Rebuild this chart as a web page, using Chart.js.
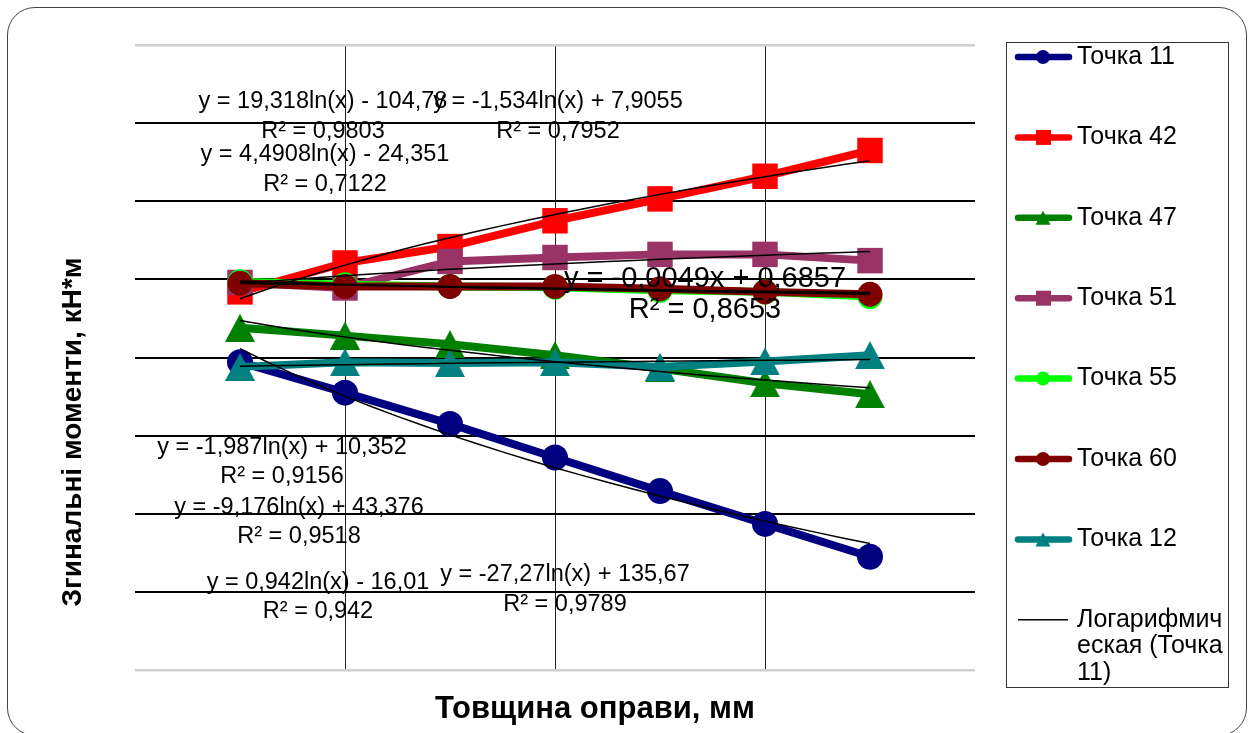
<!DOCTYPE html>
<html>
<head>
<meta charset="utf-8">
<script src="https://cdn.jsdelivr.net/npm/chart.js@4.4.1/dist/chart.umd.min.js"></script>
<style>
  html, body { margin: 0; padding: 0; background: #fff; }
  #wrap { position: relative; width: 1254px; height: 733px; overflow: hidden; }
  #frame { position: absolute; left: 7px; top: 7px; width: 1238px; height: 727px;
           border: 1.5px solid #444; border-radius: 28px; }
  #chart { position: absolute; left: 0; top: 0; }
</style>
</head>
<body>
<div id="wrap">
  <div id="frame"></div>
  <canvas id="chart" width="1254" height="733"></canvas>
</div>
<script>
// ── data: bending moments per point vs frame thickness ──
const xPos = [4, 5, 6, 7, 8, 9, 10];
const seriesNames = ['Точка 11', 'Точка 42', 'Точка 47', 'Точка 51', 'Точка 55', 'Точка 60', 'Точка 12'];
const p11 = [39.4, 35.5, 31.5, 27.2, 22.9, 18.7, 14.5];
const p42 = [48.4, 52.1, 54.2, 57.5, 60.3, 63.2, 66.5];
const p47 = [43.8, 42.8, 41.7, 40.3, 38.6, 36.7, 35.3];
const p51 = [49.6, 48.9, 52.3, 52.8, 53.2, 53.2, 52.4];
const p55 = [49.7, 49.3, 49.1, 49.0, 48.6, 48.4, 47.8];
const p60 = [49.5, 49.1, 49.1, 49.1, 48.8, 48.4, 48.1];
const p12 = [38.8, 39.4, 39.3, 39.4, 38.8, 39.5, 40.3];
const yMin = 0, yMax = 80, yStep = 10;
const xMin = 3, xMax = 11, xStep = 2;

const trendLegend = ['Логарифмич', 'еская (Точка', '11)'];
const eqText = [
  ['y = 19,318ln(x) - 104,78', 'R² = 0,9803'],
  ['y = -1,534ln(x) + 7,9055', 'R² = 0,7952'],
  ['y = 4,4908ln(x) - 24,351', 'R² = 0,7122'],
  ['y = -0,0049x + 0,6857', 'R² = 0,8653'],
  ['y = -1,987ln(x) + 10,352', 'R² = 0,9156'],
  ['y = -9,176ln(x) + 43,376', 'R² = 0,9518'],
  ['y = 0,942ln(x) - 16,01', 'R² = 0,942'],
  ['y = -27,27ln(x) + 135,67', 'R² = 0,9789']
];
const xTitle = 'Товщина оправи, мм';
const yTitle = 'Згинальні моменти, кН*м';

const FONT = "'Liberation Sans', Arial, sans-serif";

// ── markers ──
function triMarker(color, w, h) {
  const c = document.createElement('canvas');
  c.width = w; c.height = h;
  const g = c.getContext('2d');
  g.fillStyle = color;
  g.beginPath();
  g.moveTo(w / 2, 0); g.lineTo(w, h); g.lineTo(0, h);
  g.closePath(); g.fill();
  return c;
}

const styles = [
  { color: '#000080', marker: 'circle', r: 13 },
  { color: '#ff0000', marker: 'rect', r: 18 },
  { color: '#008000', marker: 'tri', r: 0 },
  { color: '#993366', marker: 'rect', r: 18 },
  { color: '#00ff00', marker: 'circle', r: 12.5 },
  { color: '#800000', marker: 'circle', r: 12.5 },
  { color: '#008080', marker: 'tri', r: 0 }
];
const allSeries = [p11, p42, p47, p51, p55, p60, p12];

// ── trendlines (least squares on the series) ──
function logFit(ys) {
  const L = xPos.map(Math.log);
  const n = L.length;
  const mL = L.reduce((a, b) => a + b, 0) / n;
  const mY = ys.reduce((a, b) => a + b, 0) / n;
  let sxy = 0, sxx = 0;
  for (let i = 0; i < n; i++) { sxy += (L[i] - mL) * (ys[i] - mY); sxx += (L[i] - mL) ** 2; }
  const a = sxy / sxx;
  return x => a * Math.log(x) + (mY - a * mL);
}
function linFit(ys) {
  const n = xPos.length;
  const mX = xPos.reduce((a, b) => a + b, 0) / n;
  const mY = ys.reduce((a, b) => a + b, 0) / n;
  let sxy = 0, sxx = 0;
  for (let i = 0; i < n; i++) { sxy += (xPos[i] - mX) * (ys[i] - mY); sxx += (xPos[i] - mX) ** 2; }
  const a = sxy / sxx;
  return x => a * x + (mY - a * mX);
}
function curve(fn) {
  const pts = [];
  for (let x = xPos[0]; x <= xPos[xPos.length - 1] + 1e-9; x += 0.25) pts.push({ x, y: fn(x) });
  return pts;
}

const datasets = [];
allSeries.forEach((ys, i) => {
  const s = styles[i];
  const tri = s.marker === 'tri' ? triMarker(s.color, 30, 28) : null;
  datasets.push({
    label: seriesNames[i],
    data: xPos.map((x, k) => ({ x, y: ys[k] })),
    borderColor: s.color,
    backgroundColor: s.color,
    borderWidth: 8,
    borderJoinStyle: 'round',
    borderCapStyle: 'round',
    pointStyle: tri || s.marker,
    pointRadius: tri ? 14 : s.r,
    pointBorderWidth: 0,
    tension: 0,
    order: 9 - i
  });
});
allSeries.forEach((ys, i) => {
  datasets.push({
    label: 'Логарифмическая (' + seriesNames[i] + ')',
    trend: true,
    data: curve(logFit(ys)),
    borderColor: '#000',
    borderWidth: 1.5,
    pointRadius: 0,
    tension: 0,
    order: 1
  });
});
datasets.push({
  label: 'Линейная (Точка 60)',
  trend: true,
  data: curve(linFit(p60)),
  borderColor: '#000',
  borderWidth: 1.5,
  pointRadius: 0,
  tension: 0,
  order: 1
});

// ── labels, titles and legend ──
const eqPlacement = [
  { x: 323, y: 102, size: 23.5, gap: 29.5 },
  { x: 558, y: 102, size: 23.5, gap: 29.5 },
  { x: 325, y: 155, size: 23.5, gap: 29.5 },
  { x: 705, y: 279, size: 29, gap: 31 },
  { x: 282, y: 448, size: 23.5, gap: 28.5 },
  { x: 299, y: 508, size: 23.5, gap: 28.5 },
  { x: 318, y: 583, size: 23.5, gap: 28.5 },
  { x: 565, y: 575, size: 23.5, gap: 29.5 }
];

const overlay = {
  id: 'overlay',
  afterDraw(chart) {
    const ctx = chart.ctx;
    ctx.save();
    ctx.fillStyle = '#000';
    ctx.textAlign = 'center';
    ctx.textBaseline = 'middle';

    eqText.forEach((lines, i) => {
      const p = eqPlacement[i];
      ctx.font = p.size + 'px ' + FONT;
      lines.forEach((t, k) => ctx.fillText(t, p.x, p.y + k * p.gap));
    });

    ctx.font = 'bold 31px ' + FONT;
    ctx.fillText(xTitle, 595, 709);
    ctx.save();
    ctx.translate(73, 432);
    ctx.rotate(-Math.PI / 2);
    ctx.font = 'bold 28px ' + FONT;
    ctx.fillText(yTitle, 0, 0);
    ctx.restore();

    // legend box
    ctx.strokeStyle = '#333';
    ctx.lineWidth = 1;
    ctx.strokeRect(1006.5, 42.5, 222, 645);
    ctx.textAlign = 'left';
    ctx.font = '25px ' + FONT;
    const series = chart.data.datasets.filter(d => !d.trend);
    series.forEach((d, i) => {
      const y = 57 + i * 80.4;
      ctx.strokeStyle = d.borderColor;
      ctx.lineWidth = 6.5;
      ctx.lineCap = 'round';
      ctx.beginPath(); ctx.moveTo(1018, y); ctx.lineTo(1069, y); ctx.stroke();
      ctx.fillStyle = d.borderColor;
      const st = styles[i].marker;
      if (st === 'circle') {
        ctx.beginPath(); ctx.arc(1043, y, 7, 0, Math.PI * 2); ctx.fill();
      } else if (st === 'rect') {
        ctx.fillRect(1036, y - 7.5, 15, 15);
      } else {
        ctx.beginPath(); ctx.moveTo(1043, y - 7); ctx.lineTo(1050.5, y + 7); ctx.lineTo(1035.5, y + 7);
        ctx.closePath(); ctx.fill();
      }
      ctx.fillStyle = '#000';
      ctx.fillText(d.label, 1077, y);
    });
    const ty = 57 + series.length * 80.4;
    ctx.strokeStyle = '#000';
    ctx.lineWidth = 1.5;
    ctx.lineCap = 'butt';
    ctx.beginPath(); ctx.moveTo(1018, ty); ctx.lineTo(1068, ty); ctx.stroke();
    trendLegend.forEach((t, k) => ctx.fillText(t, 1077, ty + k * 26.5));
    ctx.restore();
  }
};

new Chart(document.getElementById('chart'), {
  type: 'line',
  data: { datasets },
  options: {
    responsive: false,
    animation: false,
    layout: { padding: { left: 135, right: 279, top: 45, bottom: 63 } },
    plugins: { legend: { display: false }, tooltip: { enabled: false } },
    scales: {
      x: {
        type: 'linear', min: xMin, max: xMax,
        ticks: { display: false, stepSize: xStep },
        border: { display: false },
        grid: {
          drawTicks: false,
          color: c => (c.tick.value === xMin || c.tick.value === xMax) ? 'rgba(0,0,0,0)' : '#222',
          lineWidth: 1
        }
      },
      y: {
        min: yMin, max: yMax,
        ticks: { display: false, stepSize: yStep },
        border: { display: false },
        grid: {
          drawTicks: false,
          color: c => (c.tick.value === yMin || c.tick.value === yMax) ? '#cfcfcf' : '#000',
          lineWidth: c => (c.tick.value === yMin || c.tick.value === yMax) ? 2.5 : 2
        }
      }
    }
  },
  plugins: [overlay]
});
</script>
</body>
</html>
